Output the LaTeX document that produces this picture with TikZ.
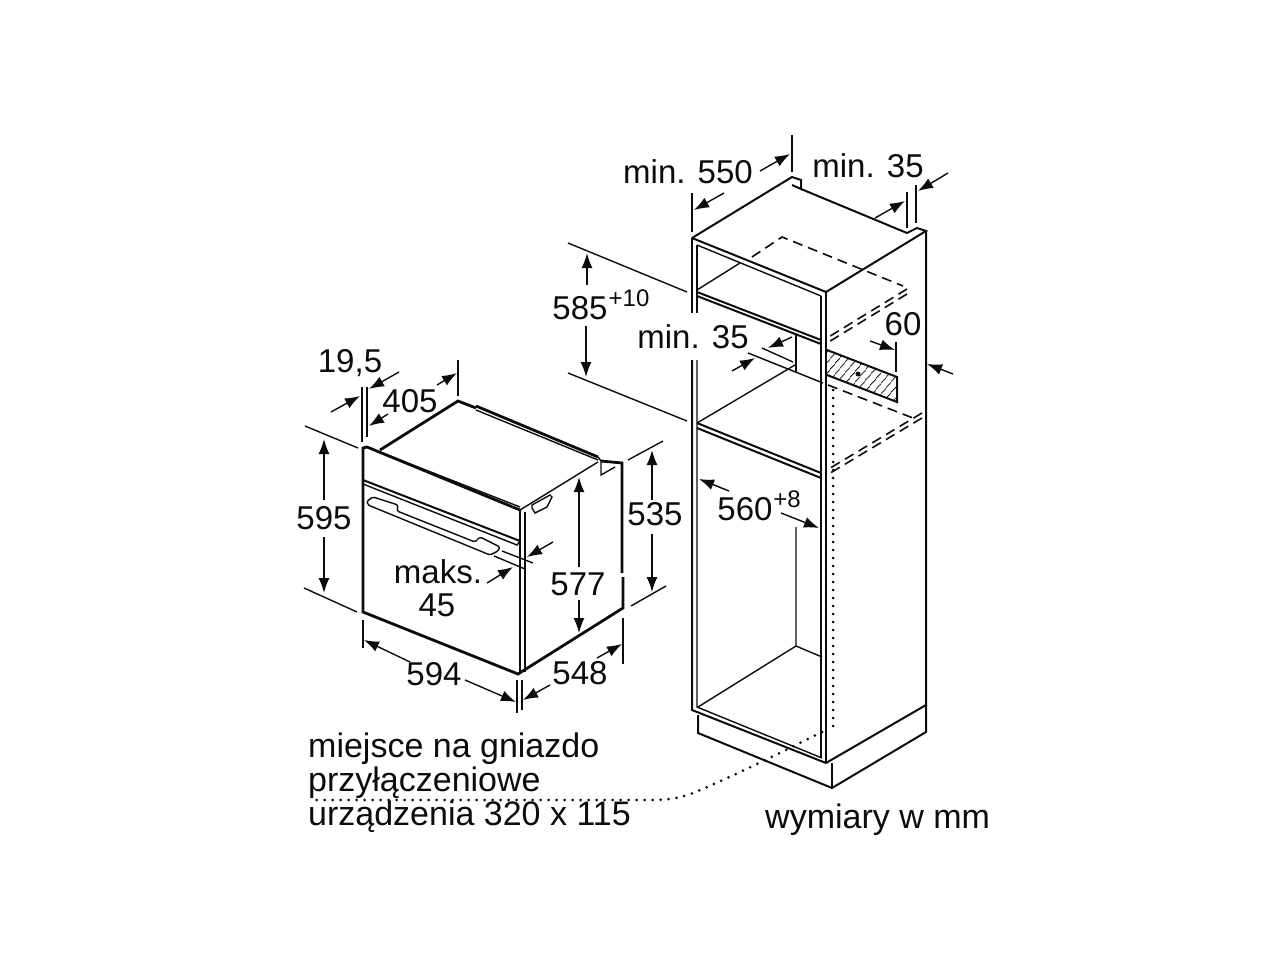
\documentclass[tikz,border=0pt]{standalone}
\usepackage{fontspec}
\setmainfont{Liberation Sans}
\usetikzlibrary{arrows.meta,patterns.meta}
\tikzset{
  thin line/.style={line width=1.4pt,draw=ink},
  mid line/.style={line width=2pt,draw=ink},
  heavy line/.style={line width=2.8pt,draw=ink},
  dim/.style={line width=1.4pt,draw=ink,-{Latex[length=15pt,width=11pt]}},
  dashline/.style={line width=1.6pt,draw=ink,dash pattern=on 10pt off 6pt},
  dotline/.style={line width=3pt,draw=ink,line cap=round,dash pattern=on 0pt off 8pt},
  lbl/.style={font=\fontsize{33}{33}\selectfont,text=ink,inner sep=0pt},
  note/.style={font=\fontsize{34}{34}\selectfont,text=ink,inner sep=0pt,anchor=base west},
  supr/.style={font=\fontsize{24}{24}\selectfont,text=ink,inner sep=0pt},
}
\definecolor{ink}{HTML}{0C0C0C}
\begin{document}
\begin{tikzpicture}[x=1pt,y=-1pt]
\useasboundingbox (0,0) rectangle (1280,960);
% ---------- oven
\draw[heavy line] (380,450) -- (458,401) -- (476,408);
\draw[heavy line] (476,406) -- (598,457);
\draw[thin line] (476,410) -- (598,460);
\draw[thin line] (598,457) -- (601,461) -- (601,475) -- (615,467);
\draw[heavy line] (601,461) -- (622,463) -- (622,573);
\draw[heavy line] (623,577) -- (623,608) -- (518,674) -- (363,612) -- (363,448) -- (367,447) -- (520,510);
\draw[thin line] (367,447) -- (520,507);
\draw[mid line] (520,510) -- (520,674);
\draw[thin line] (525,512) -- (525,672);
\draw[thin line] (520,510) -- (598,462);
\draw[mid line] (363,480) -- (520,541);
\draw[thin line] (363,484) -- (517,545) -- (520,541);
% handle
\draw[thin line,rounded corners=1.5pt] (368,505) -- (367,501) -- (373,497) -- (398,505) -- (397,511) -- (475,542) -- (480,537) -- (500,547) -- (498,551) -- (490,555) -- cycle;
% side cut-out
\draw[thin line] (532,505) -- (550,495) -- (552,497) -- (547,507) -- (535,513) -- (532,508) -- cycle;
% oven dimensions
\draw[thin line] (362,387) -- (362,442);
\draw[thin line] (367,387) -- (367,437);
\draw[dim] (331,412) -- (360,396);
\draw[dim] (399,372) -- (369,389);
\draw[dim] (388,414) -- (369,426);
\draw[dim] (437,385) -- (457,373);
\draw[thin line] (458,360) -- (458,396);
\draw[thin line] (305,426) -- (358,448);
\draw[thin line] (304,588) -- (357,612);
\draw[dim] (324,500) -- (324,439);
\draw[dim] (324,537) -- (324,593);
\draw[thin line] (363,620) -- (363,648);
\draw[thin line] (517,680) -- (517,713);
\draw[thin line] (522,680) -- (522,710);
\draw[dim] (410,662) -- (364,640);
\draw[dim] (465,680) -- (516,702);
\draw[thin line] (623,618) -- (623,664);
\draw[dim] (597,658) -- (622,644);
\draw[dim] (550,685) -- (523,700);
\draw[dim] (579,567) -- (579,477);
\draw[dim] (579,600) -- (579,633);
\draw[thin line] (628,460) -- (663,441);
\draw[thin line] (631,606) -- (666,586);
\draw[dim] (652,500) -- (652,450);
\draw[dim] (652,534) -- (652,592);
\draw[thin line] (502,551) -- (533,563);
\draw[thin line] (494,556) -- (525,569);
\draw[dim] (553,542) -- (527,557);
\draw[dim] (487,583) -- (513,567);
% ---------- cabinet
\draw[mid line] (692,238) -- (792,177) -- (801,180) -- (801,189) -- (792,185);
\draw[mid line] (801,189) -- (907,233) -- (917,228) -- (926,231) -- (826,292) -- (692,238);
\draw[mid line] (692,238) -- (692,313);
\draw[mid line] (692,360) -- (692,710) -- (826,763);
\draw[thin line] (697,245) -- (697,313);
\draw[thin line] (697,360) -- (697,707) -- (822,758);
\draw[thin line] (697,245) -- (821,296);
\draw[mid line] (826,292) -- (826,763);
\draw[thin line] (821,296) -- (821,758);
\draw[mid line] (926,231) -- (926,732) -- (832,788) -- (698,733) -- (698,715);
\draw[mid line] (826,763) -- (926,705);
\draw[mid line] (832,763) -- (832,788);
% shelves
\draw[mid line] (697,292) -- (821,340);
\draw[mid line] (697,296) -- (821,344);
\draw[mid line] (697,423) -- (821,473);
\draw[mid line] (697,428) -- (821,478);
\draw[thin line] (697,290) -- (740,263);
\draw[thin line] (697,423) -- (795,365);
\draw[thin line] (796,335) -- (796,372);
\draw[thin line] (762,348) -- (793,362);
\draw[thin line] (748,353) -- (823,383);
\draw[thin line] (796,527) -- (796,646) -- (698,707);
\draw[thin line] (796,646) -- (822,657);
% dashed
\draw[dashline] (752,257) -- (782,237) -- (903,286);
\draw[dashline] (907,289) -- (827,338);
\draw[dashline] (907,294) -- (827,343);
\draw[dashline] (828,385) -- (913,418);
\draw[dashline] (922,413) -- (827,470);
\draw[dashline] (922,418) -- (827,475);
% hatch
\fill[pattern={Lines[angle=50,distance=6.5pt,line width=1pt]},pattern color=ink] (827,350) -- (897,377) -- (897,402) -- (827,375) -- cycle;
\draw[mid line] (827,350) -- (897,377) -- (897,402) -- (827,375);
\fill[ink] (858,374) circle (2.5pt);
% dotted
\draw[dotline] (833,390) -- (833,728);
\draw[dotline] (822,732) .. controls (790,748) and (730,778) .. (693,793) .. controls (680,798) and (670,800) .. (650,800) -- (310,800);
% cabinet dimensions
\draw[thin line] (692,193) -- (692,232);
\draw[thin line] (792,135) -- (792,172);
\draw[dim] (760,171) -- (790,154);
\draw[dim] (724,193) -- (694,210);
\draw[thin line] (907,192) -- (907,228);
\draw[thin line] (916,185) -- (916,223);
\draw[dim] (875,218) -- (905,201);
\draw[dim] (948,173) -- (918,191);
\draw[thin line] (568,243) -- (687,292);
\draw[thin line] (568,373) -- (687,421);
\draw[dim] (587,285) -- (587,253);
\draw[dim] (586,326) -- (586,377);
\draw[dim] (792,337) -- (768,348);
\draw[dim] (732,371) -- (755,358);
\draw[thin line] (896,342) -- (896,372);
\draw[dim] (870,341) -- (895,350);
\draw[dim] (953,374) -- (927,364);
\draw[dim] (729,491) -- (699,479);
\draw[dim] (781,513) -- (819,528);
% ---------- labels
\node[lbl] (t195) at (350,363) {19,5};
\node[lbl] (t405) at (410,401) {405};
\node[lbl] (t595) at (324,518) {595};
\node[lbl] (t594) at (434,674) {594};
\node[lbl] (t548) at (580,673) {548};
\node[lbl] (t577) at (578,584) {577};
\node[lbl] (t535) at (655,514) {535};
\node[lbl] (tmaks) at (438,572) {maks.};
\node[lbl] (t45) at (437,605) {45};
\node[lbl] (t550) at (688,172) {min. 550};
\node[lbl] (t35a) at (868,166) {min. 35};
\node[lbl] (t585) at (580,308) {585};
\node[supr] (t10) at (629,298) {+10};
\node[lbl] (t35b) at (693,337) {min. 35};
\node[lbl] (t60) at (903,324) {60};
\node[lbl] (t560) at (745,509) {560};
\node[supr] (t8) at (787,499) {+8};
\node[note] (n1) at (308,757) {miejsce na gniazdo};
\node[note] (n2) at (308,791) {przyłączeniowe};
\node[note] (n3) at (308,825) {urządzenia 320 x 115};
\node[note] (n4) at (765,828) {wymiary w mm};
\end{tikzpicture}
\end{document}
